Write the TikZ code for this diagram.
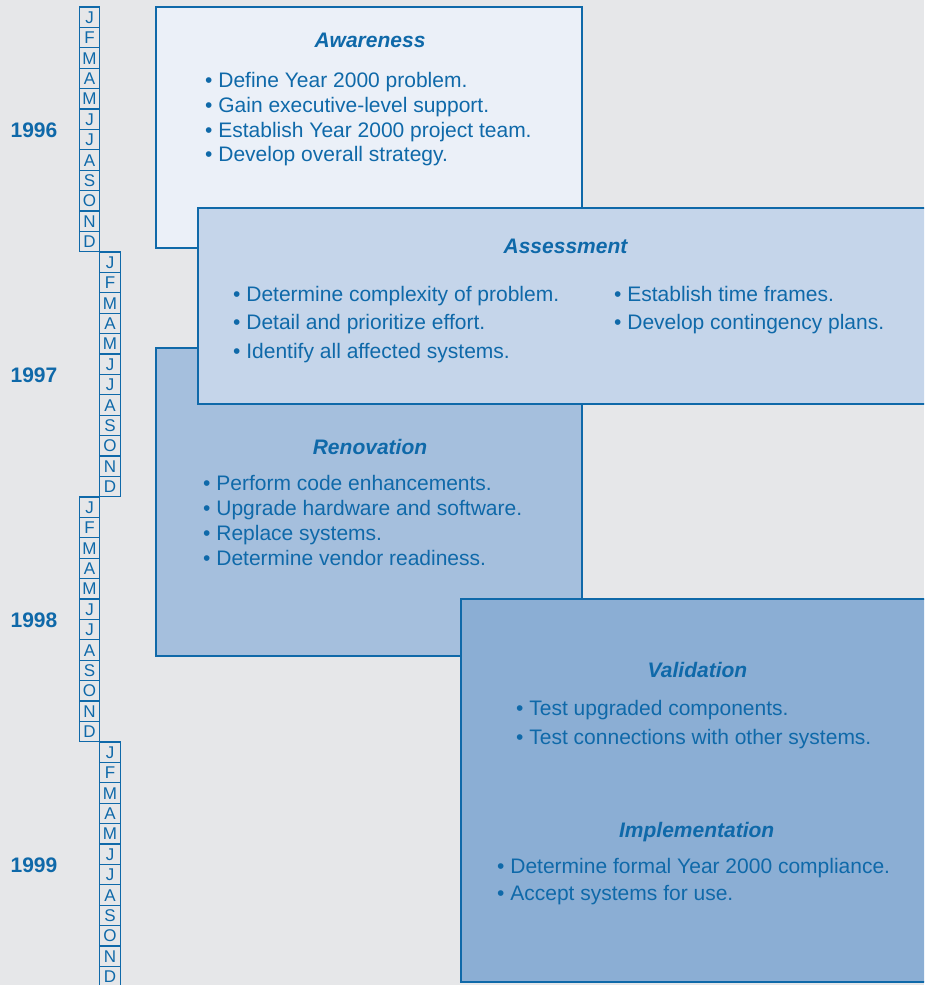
\documentclass[tikz,border=0pt]{standalone}
\usepackage{fontspec}
\setmainfont{Liberation Sans}
\usetikzlibrary{positioning}
\definecolor{ybg}{HTML}{E6E7E9}
\definecolor{yblue}{HTML}{0F69A9}
\definecolor{awfill}{HTML}{EBF0F8}
\definecolor{asfill}{HTML}{C5D5EA}
\definecolor{refill}{HTML}{A5BFDD}
\definecolor{vafill}{HTML}{8BAED4}

\begin{document}
\begin{tikzpicture}[x=1pt, y=-1pt,
    phase/.style={draw=yblue, line width=2.6pt},
    month/.style={draw=yblue, line width=1.2pt, minimum width=20.5pt, minimum height=20.4pt, inner sep=0pt, text height=12.2pt, text depth=0pt, text=yblue, font=\fontsize{17}{17}\selectfont},
    year/.style={text=yblue, font=\fontsize{21}{21}\selectfont\bfseries},
    title/.style={anchor=base, inner sep=0pt, text=yblue, font=\fontsize{21}{21}\selectfont\bfseries\itshape},
    item/.style={anchor=base west, inner sep=0pt, text=yblue, font=\fontsize{21}{25}\selectfont}]

  \clip (0,0) rectangle (924,985);
  \fill[ybg] (0,0) rectangle (924,985);

  % Month columns, one per year, staggered left/right.
  \foreach \yr [count=\i from 0] in {1996,1997,1998,1999} {
    \pgfmathsetmacro{\mx}{mod(\i,2)==0 ? 89.5 : 110}
    \foreach \m [count=\j from 0] in {J,F,M,A,M,J,J,A,S,O,N,D}
      \node[month] (m\yr-\j) at (\mx, 7+245*\i+20.4*\j+10.2) {\m};
    \node[year] (y\yr) at (34, 7+245*\i+123) {\yr};
  }

  % Awareness.
  \draw[phase, fill=awfill] (156,7) rectangle (582,248);
  \node[title] (awT) at (370,47.3) {Awareness};
  \foreach \t [count=\k from 0] in {Define Year 2000 problem., Gain executive-level support.,
      Establish Year 2000 project team., Develop overall strategy.}
    \node[item] (aw\k) at (205, 87.5+24.75*\k) {• \t};

  % Renovation (behind assessment).
  \draw[phase, fill=refill] (156,348) rectangle (582,656);
  \node[title] (reT) at (370,454) {Renovation};
  \foreach \t [count=\k from 0] in {Perform code enhancements., Upgrade hardware and software.,
      Replace systems., Determine vendor readiness.}
    \node[item] (re\k) at (203, 490+25*\k) {• \t};

  % Assessment.
  \draw[phase, fill=asfill] (198,208) rectangle (940,404);
  \node[title] (asT) at (565.5,253.3) {Assessment};
  \foreach \t [count=\k from 0] in {Determine complexity of problem., Detail and prioritize effort.,
      Identify all affected systems.}
    \node[item] (asL\k) at (233, 301.5+28.3*\k) {• \t};
  \foreach \t [count=\k from 0] in {Establish time frames., Develop contingency plans.}
    \node[item] (asR\k) at (614, 301.5+28.3*\k) {• \t};

  % Validation and implementation share one box.
  \draw[phase, fill=vafill] (461,599) rectangle (940,982);
  \node[title] (vaT) at (697.5,677) {Validation};
  \foreach \t [count=\k from 0] in {Test upgraded components., Test connections with other systems.}
    \node[item] (va\k) at (516, 715.5+28.5*\k) {• \t};
  \node[title] (imT) at (696.7,837.3) {Implementation};
  \foreach \t [count=\k from 0] in {Determine formal Year 2000 compliance., Accept systems for use.}
    \node[item] (im\k) at (497, 873.3+27.4*\k) {• \t};
\end{tikzpicture}
\end{document}
